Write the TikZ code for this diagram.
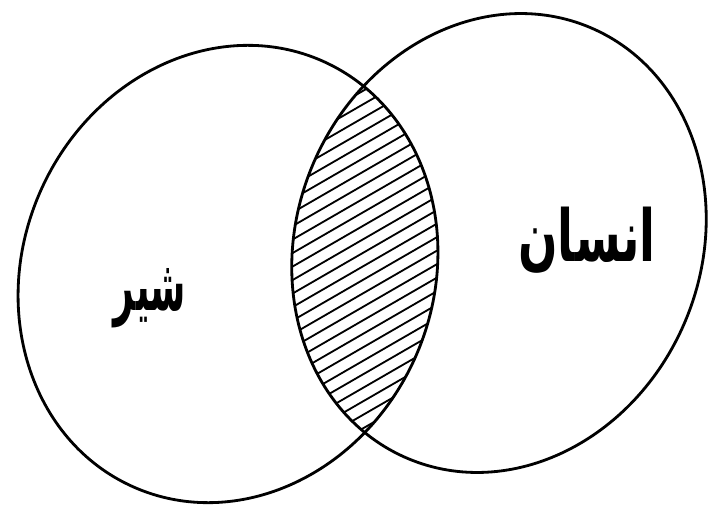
\documentclass[tikz,border=0pt]{standalone}
\usepackage{fontspec}
\newfontfamily\arabicfont[Script=Arabic]{DejaVu Sans}
\TeXXeTstate=1
\tikzset{
    set/.style={draw, line width=2pt},
    hatch/.style={line width=1.3pt},
    setlabel/.style={font=\arabicfont\bfseries\fontsize{30}{36}\selectfont,
                     inner sep=0pt, yscale=1.7, transform shape},
}

\begin{document}
\begin{tikzpicture}[x=0.025cm, y=0.025cm]
    \useasboundingbox (0,0) rectangle (712,509);

    % the two sets
    \coordinate (lc) at (228,235);
    \coordinate (rc) at (499,266);

    % hatched intersection
    \begin{scope}
        \clip[rotate around={-24:(lc)}] (lc) ellipse [x radius=205, y radius=233];
        \clip[rotate around={-23:(rc)}] (rc) ellipse [x radius=202, y radius=234];
        \foreach \k in {-40,...,40}
            \draw[hatch] (200,{\k*13.5}) -- +(400,231);
    \end{scope}

    \draw[set, rotate around={-24:(lc)}] (lc) ellipse [x radius=205, y radius=233];
    \draw[set, rotate around={-23:(rc)}] (rc) ellipse [x radius=202, y radius=234];

    \node[setlabel, xscale=0.85] (lion) at (150,211) {\beginR شیر\endR};
    \node[setlabel, xscale=1.1] (human) at (587,269) {\beginR انسان\endR};

\end{tikzpicture}
\end{document}
